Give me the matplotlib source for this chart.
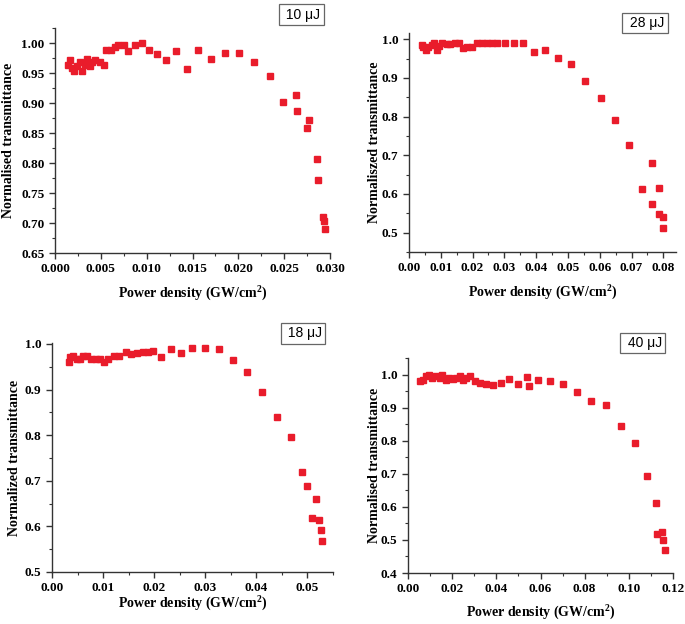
import matplotlib
matplotlib.use('Agg')
from matplotlib import pyplot as plt
from matplotlib.ticker import AutoMinorLocator, MultipleLocator

plt.rcParams['font.family'] = 'Liberation Serif'
plt.rcParams['font.weight'] = 'bold'
plt.rcParams['mathtext.fontset'] = 'custom'
plt.rcParams['mathtext.rm'] = 'Liberation Serif:bold'
plt.rcParams['mathtext.bf'] = 'Liberation Serif:bold'

RED = '#e91c2b'
W, H = 685, 624

# 10 uJ
x10 = [0.00145, 0.0016, 0.0018, 0.0021, 0.0024, 0.0027, 0.0029, 0.0033, 0.0035, 0.0038,
       0.0040, 0.0044, 0.0049, 0.0053, 0.0056, 0.0061, 0.0065, 0.0069, 0.0075, 0.0080,
       0.0087, 0.0095, 0.0103, 0.0111, 0.0121, 0.0132, 0.0144, 0.0156, 0.0170, 0.0185,
       0.0201, 0.0217, 0.0234, 0.0249, 0.0263, 0.0264, 0.0277, 0.0275, 0.0286, 0.0287,
       0.0292, 0.0293, 0.0295]
y10 = [0.964, 0.972, 0.958, 0.953, 0.961, 0.969, 0.953, 0.964, 0.973, 0.961,
       0.968, 0.972, 0.968, 0.964, 0.988, 0.988, 0.994, 0.996, 0.997, 0.986,
       0.996, 1.000, 0.989, 0.981, 0.971, 0.986, 0.957, 0.988, 0.974, 0.984,
       0.983, 0.968, 0.945, 0.902, 0.914, 0.887, 0.871, 0.859, 0.807, 0.772,
       0.710, 0.703, 0.690]

# 28 uJ
x28 = [0.0040, 0.0043, 0.0054, 0.0060, 0.0071, 0.0080, 0.0087, 0.0093, 0.0103, 0.0119,
       0.0129, 0.0145, 0.0156, 0.0171, 0.0182, 0.0198, 0.0213, 0.0229, 0.0245, 0.0261,
       0.0277, 0.0301, 0.0329, 0.0359, 0.0392, 0.0429, 0.0469, 0.0511, 0.0555, 0.0603,
       0.0647, 0.0693, 0.0732, 0.0763, 0.0763, 0.0787, 0.0787, 0.0800, 0.0800]
y28 = [0.985, 0.979, 0.973, 0.981, 0.985, 0.990, 0.973, 0.983, 0.991, 0.987,
       0.987, 0.991, 0.991, 0.977, 0.981, 0.981, 0.991, 0.991, 0.991, 0.991,
       0.991, 0.991, 0.991, 0.990, 0.966, 0.973, 0.951, 0.936, 0.891, 0.848,
       0.790, 0.726, 0.612, 0.680, 0.575, 0.616, 0.547, 0.541, 0.513]

# 18 uJ
x18 = [0.0033, 0.0036, 0.0042, 0.0048, 0.0054, 0.0061, 0.0068, 0.0077, 0.0087, 0.0093,
       0.0102, 0.0109, 0.0122, 0.0132, 0.0144, 0.0154, 0.0167, 0.0178, 0.0188, 0.0197,
       0.0214, 0.0233, 0.0253, 0.0274, 0.0299, 0.0326, 0.0354, 0.0382, 0.0411, 0.0440,
       0.0467, 0.0490, 0.0500, 0.0508, 0.0516, 0.0523, 0.0526, 0.0528]
y18 = [0.961, 0.971, 0.974, 0.966, 0.968, 0.973, 0.974, 0.967, 0.968, 0.968,
       0.960, 0.966, 0.974, 0.974, 0.982, 0.977, 0.981, 0.982, 0.983, 0.985,
       0.972, 0.988, 0.980, 0.990, 0.990, 0.989, 0.965, 0.938, 0.895, 0.840,
       0.796, 0.719, 0.688, 0.619, 0.661, 0.613, 0.591, 0.569]

# 40 uJ
x40 = [0.0053, 0.0068, 0.0080, 0.0095, 0.0110, 0.0128, 0.0143, 0.0155, 0.0171, 0.0186,
       0.0204, 0.0219, 0.0234, 0.0249, 0.0264, 0.0279, 0.0302, 0.0325, 0.0355, 0.0385,
       0.0420, 0.0457, 0.0498, 0.0539, 0.0546, 0.0589, 0.0642, 0.0702, 0.0765, 0.0830,
       0.0898, 0.0966, 0.1026, 0.1082, 0.1125, 0.1129, 0.1152, 0.1155, 0.1162]
y40 = [0.980, 0.985, 0.995, 1.000, 0.990, 0.995, 0.990, 1.000, 0.985, 0.990,
       0.987, 0.990, 0.995, 0.985, 0.990, 0.995, 0.980, 0.973, 0.970, 0.967,
       0.975, 0.987, 0.970, 0.992, 0.965, 0.985, 0.980, 0.970, 0.947, 0.921,
       0.907, 0.845, 0.793, 0.693, 0.613, 0.517, 0.524, 0.501, 0.471]

panels = [
    # data, tag, ylabel, pixel box (l, r, t, b), xlim, xstep, ylim, ystep, formats,
    # tag centre, xlabel offset below axes, ylabel offset left of axes (pixels)
    (x10, y10, '10 \u03bcJ', 'Normalised transmittance', (55, 330, 28, 253),
     (0, 0.030), 0.005, (0.65, 1.025), 0.05, '%.2f', '%.3f', (301.5, 14.5), 40, 46),
    (x28, y28, '28 \u03bcJ', 'Normaliszed transmittance', (409, 676, 33, 252),
     (0, 0.084), 0.01, (0.45, 1.016), 0.1, '%.1f', '%.2f', (645, 23), 40, 34),
    (x18, y18, '18 \u03bcJ', 'Normalized transmittance', (52, 333, 343, 572),
     (0, 0.055), 0.01, (0.5, 1.002), 0.1, '%.1f', '%.2f', (303, 333.5), 31, 37),
    (x40, y40, '40 \u03bcJ', 'Normalised transmittance', (408, 673, 358, 573),
     (0, 0.12), 0.02, (0.4, 1.05), 0.1, '%.1f', '%.2f', (642.7, 343), 39, 33),
]


def main():
    fig = plt.figure(figsize=(W / 100, H / 100), dpi=100)
    for (x, y, tag, ylab, box, xl, xs, yl, ys, yfmt, xfmt, tc, xoff, yoff) in panels:
        l, r, t, b = box
        ax = fig.add_axes([l / W, 1 - b / H, (r - l) / W, (b - t) / H])
        ax.plot(x, y, ls='none', marker='s', ms=5, color=RED, mec=RED)
        ax.set_xlim(*xl)
        ax.set_ylim(*yl)
        ax.xaxis.set_major_locator(MultipleLocator(xs))
        ax.yaxis.set_major_locator(MultipleLocator(ys))
        ax.xaxis.set_minor_locator(AutoMinorLocator(2))
        ax.yaxis.set_minor_locator(AutoMinorLocator(2))
        ax.xaxis.set_major_formatter(plt.FormatStrFormatter(xfmt))
        ax.yaxis.set_major_formatter(plt.FormatStrFormatter(yfmt))
        for s in ['top', 'right']:
            ax.spines[s].set_visible(False)
        for s in ['left', 'bottom']:
            ax.spines[s].set_color('#333333')
            ax.spines[s].set_linewidth(1.0)
        ax.tick_params(which='major', direction='out', length=4, width=1,
                       colors='#333333', labelsize=9.5, labelcolor='black')
        ax.tick_params(which='minor', direction='out', length=2.5, width=0.8,
                       colors='#333333')
        for lab in ax.get_xticklabels() + ax.get_yticklabels():
            lab.set_fontweight('bold')
        ax.set_xlabel(r'Power density (GW/cm$^{2}$)', fontsize=10, fontweight='bold')
        ax.set_ylabel(ylab, fontsize=10, fontweight='bold')
        ax.xaxis.set_label_coords(0.5, -xoff / (b - t))
        ax.xaxis.label.set_va('center')
        ax.yaxis.set_label_coords(-yoff / (r - l), 0.5)
        ax.yaxis.label.set_va('center')
        fig.text(tc[0] / W, 1 - tc[1] / H, ' ' + tag, ha='center', va='center',
                 family='Liberation Sans', fontweight='normal', fontsize=10,
                 bbox=dict(boxstyle='square,pad=0.25', fc='white', ec='#666666', lw=0.9))
    fig.savefig('out.png', dpi=100)


if __name__ == '__main__':
    main()
